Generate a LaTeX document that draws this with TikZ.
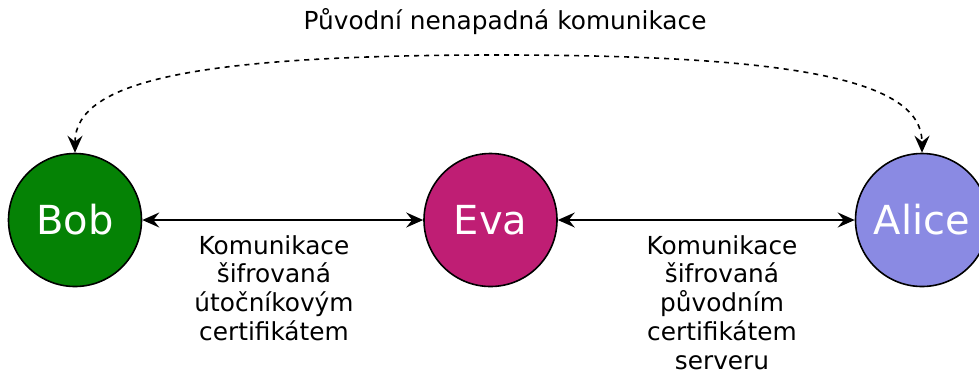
\documentclass[tikz,border=0pt]{standalone}
\usepackage{fontspec}
\setmainfont{DejaVu Sans}
\usetikzlibrary{arrows.meta}
\definecolor{bobgreen}{HTML}{058205}
\definecolor{evamag}{HTML}{BF1E74}
\definecolor{alicebl}{HTML}{8A8AE3}
\begin{document}
\begin{tikzpicture}[x=1pt,y=-1pt,
  person/.style={circle,draw=black,line width=1.6pt,minimum size=133pt,inner sep=0pt,
    text=white,font=\fontsize{40}{46}\selectfont},
  lbl/.style={align=center,inner sep=0pt,font=\fontsize{24.8}{28.8}\selectfont},
  tip/.tip={Stealth[length=17pt,width=15pt,inset=6pt]},
  conn/.style={line width=1.6pt,tip-tip},
  dconn/.style={line width=1.6pt,dash pattern=on 5pt off 5pt,tip-tip}
]
\useasboundingbox (0,0) rectangle (979,376);
\node[person,fill=bobgreen] (bob) at (75,220) {Bob};
\node[person,fill=evamag] (eva) at (490.5,220) {Eva};
\node[person,fill=alicebl] (alice) at (922,220) {Alice};
\node[lbl] (title) at (505,22) {Původní nenapadná komunikace};
\node[lbl,anchor=north] (lab1) at (274,235) {Komunikace\\šifrovaná\\útočníkovým\\certifikátem};
\node[lbl,anchor=north] (lab2) at (722,235) {Komunikace\\šifrovaná\\původním\\certifikátem\\serveru};
\draw[conn] (bob) -- (eva);
\draw[conn] (eva) -- (alice);
\draw[dconn]
  (bob.north) .. controls (75,80) and (200,55) .. (498,55)
  .. controls (796,55) and (922,80) .. (alice.north);
\end{tikzpicture}
\end{document}
